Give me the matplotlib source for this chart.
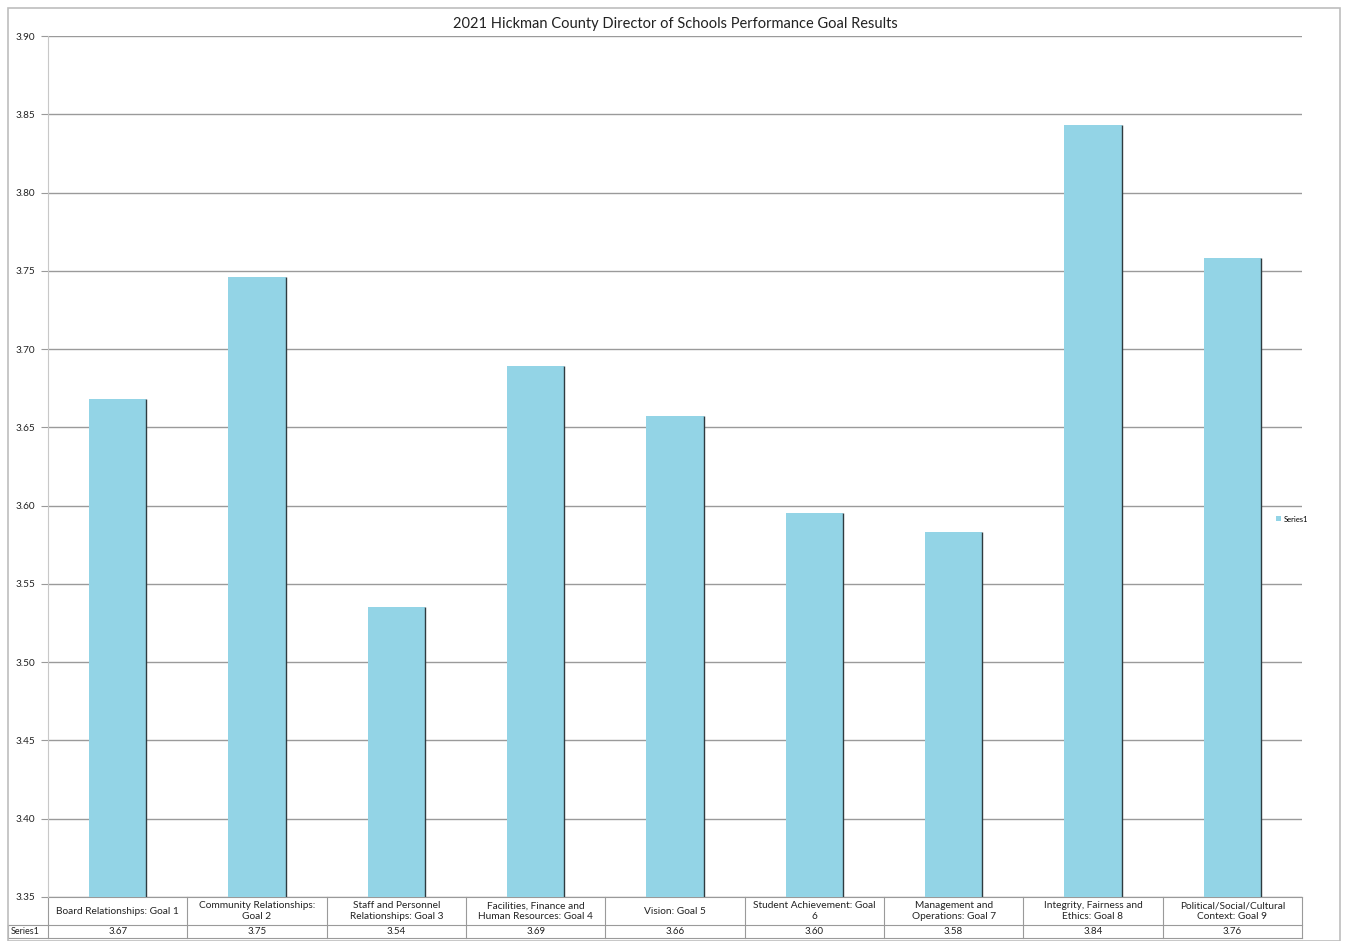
import matplotlib
matplotlib.use("Agg")
import matplotlib.pyplot as plt
import matplotlib.transforms as mtransforms
from matplotlib.patches import Rectangle
import numpy as np

plt.rcParams['font.family'] = ['Lato', 'DejaVu Sans']

title = "2021 Hickman County Director of Schools Performance Goal Results"
categories = [
    "Board Relationships: Goal 1",
    "Community Relationships:\nGoal 2",
    "Staff and Personnel\nRelationships: Goal 3",
    "Facilities, Finance and\nHuman Resources: Goal 4",
    "Vision: Goal 5",
    "Student Achievement: Goal\n6",
    "Management and\nOperations: Goal 7",
    "Integrity, Fairness and\nEthics: Goal 8",
    "Political/Social/Cultural\nContext: Goal 9",
]
values = [3.668, 3.746, 3.535, 3.689, 3.657, 3.595, 3.583, 3.843, 3.758]
table_labels = ["3.67", "3.75", "3.54", "3.69", "3.66", "3.60", "3.58", "3.84", "3.76"]
series_name = "Series1"
yticks = [3.35, 3.40, 3.45, 3.50, 3.55, 3.60, 3.65, 3.70, 3.75, 3.80, 3.85, 3.90]

W, H = 1346, 941
fig = plt.figure(figsize=(W / 100, H / 100), dpi=100)
L, R, T, B = 48, 1302, 36, 897
ax = fig.add_axes([L / W, 1 - B / H, (R - L) / W, (B - T) / H])

bar_color = "#93d4e6"
x = np.arange(len(categories))
bw = 0.41
ax.bar(x, values, width=bw, color=bar_color, zorder=3, label=series_name)
ax.vlines(x + bw / 2, yticks[0], values, color="#2f3b40", lw=1.0, zorder=4)

ax.set_xlim(-0.5, len(categories) - 0.5)
ax.set_ylim(yticks[0], yticks[-1])
ax.set_yticks(yticks)
ax.set_yticklabels([f"{v:.2f}" for v in yticks], fontsize=7.2, color="#222222")
ax.yaxis.grid(True, color="#9a9a9a", lw=1.0, zorder=0)
ax.tick_params(axis='y', length=5, color="#9a9a9a", pad=4)
ax.set_xticks([])
for s in ["top", "right", "bottom"]:
    ax.spines[s].set_visible(False)
ax.spines["left"].set_color("#c8c8c8")

ax.set_title(title, fontsize=10.5, color="#222222", pad=6)

# data table drawn manually below the axes
trans = mtransforms.blended_transform_factory(ax.transData, ax.transAxes)
ph = B - T
y_top = 0.0
y_mid = -(925 - B) / ph
y_bot = -(938 - B) / ph
x_left_lab = (8 - L) / (R - L)
lc = "#9a9a9a"
n = len(categories)
line_kw = dict(color=lc, lw=0.8, clip_on=False)
ax.plot([-0.5, n - 0.5], [y_top, y_top], transform=trans, **line_kw)
ax.plot([-0.5, n - 0.5], [y_mid, y_mid], transform=trans, **line_kw)
ax.plot([-0.5, n - 0.5], [y_bot, y_bot], transform=trans, **line_kw)
ax.plot([x_left_lab, 0], [y_mid, y_mid], transform=ax.transAxes, **line_kw)
ax.plot([x_left_lab, 0], [y_bot, y_bot], transform=ax.transAxes, **line_kw)
ax.plot([x_left_lab, x_left_lab], [y_mid, y_bot], transform=ax.transAxes, **line_kw)
for b in np.arange(n + 1) - 0.5:
    ax.plot([b, b], [y_top, y_bot], transform=trans, **line_kw)
for i in range(n):
    ax.text(x[i], (y_top + y_mid) / 2, categories[i], transform=trans, ha="center", va="center",
            fontsize=7.3, color="#222222", linespacing=1.2)
    ax.text(x[i], (y_mid + y_bot) / 2, table_labels[i], transform=trans, ha="center", va="center",
            fontsize=7, color="#222222")
ax.text(x_left_lab + 0.002, (y_mid + y_bot) / 2, series_name, transform=ax.transAxes,
        ha="left", va="center", fontsize=6.5, color="#222222")

# legend
ax.legend(loc="center left", bbox_to_anchor=(0.974, 0.439), frameon=False, fontsize=5.5,
          handlelength=0.6, handleheight=0.6, handletextpad=0.4)

fig.patches.append(Rectangle((8 / W, 0.5 / H), (1340 - 8) / W, (941 - 8) / H,
                             transform=fig.transFigure, fill=False,
                             edgecolor="#bdbdbd", lw=1.2))

fig.savefig("out.png", dpi=100)
